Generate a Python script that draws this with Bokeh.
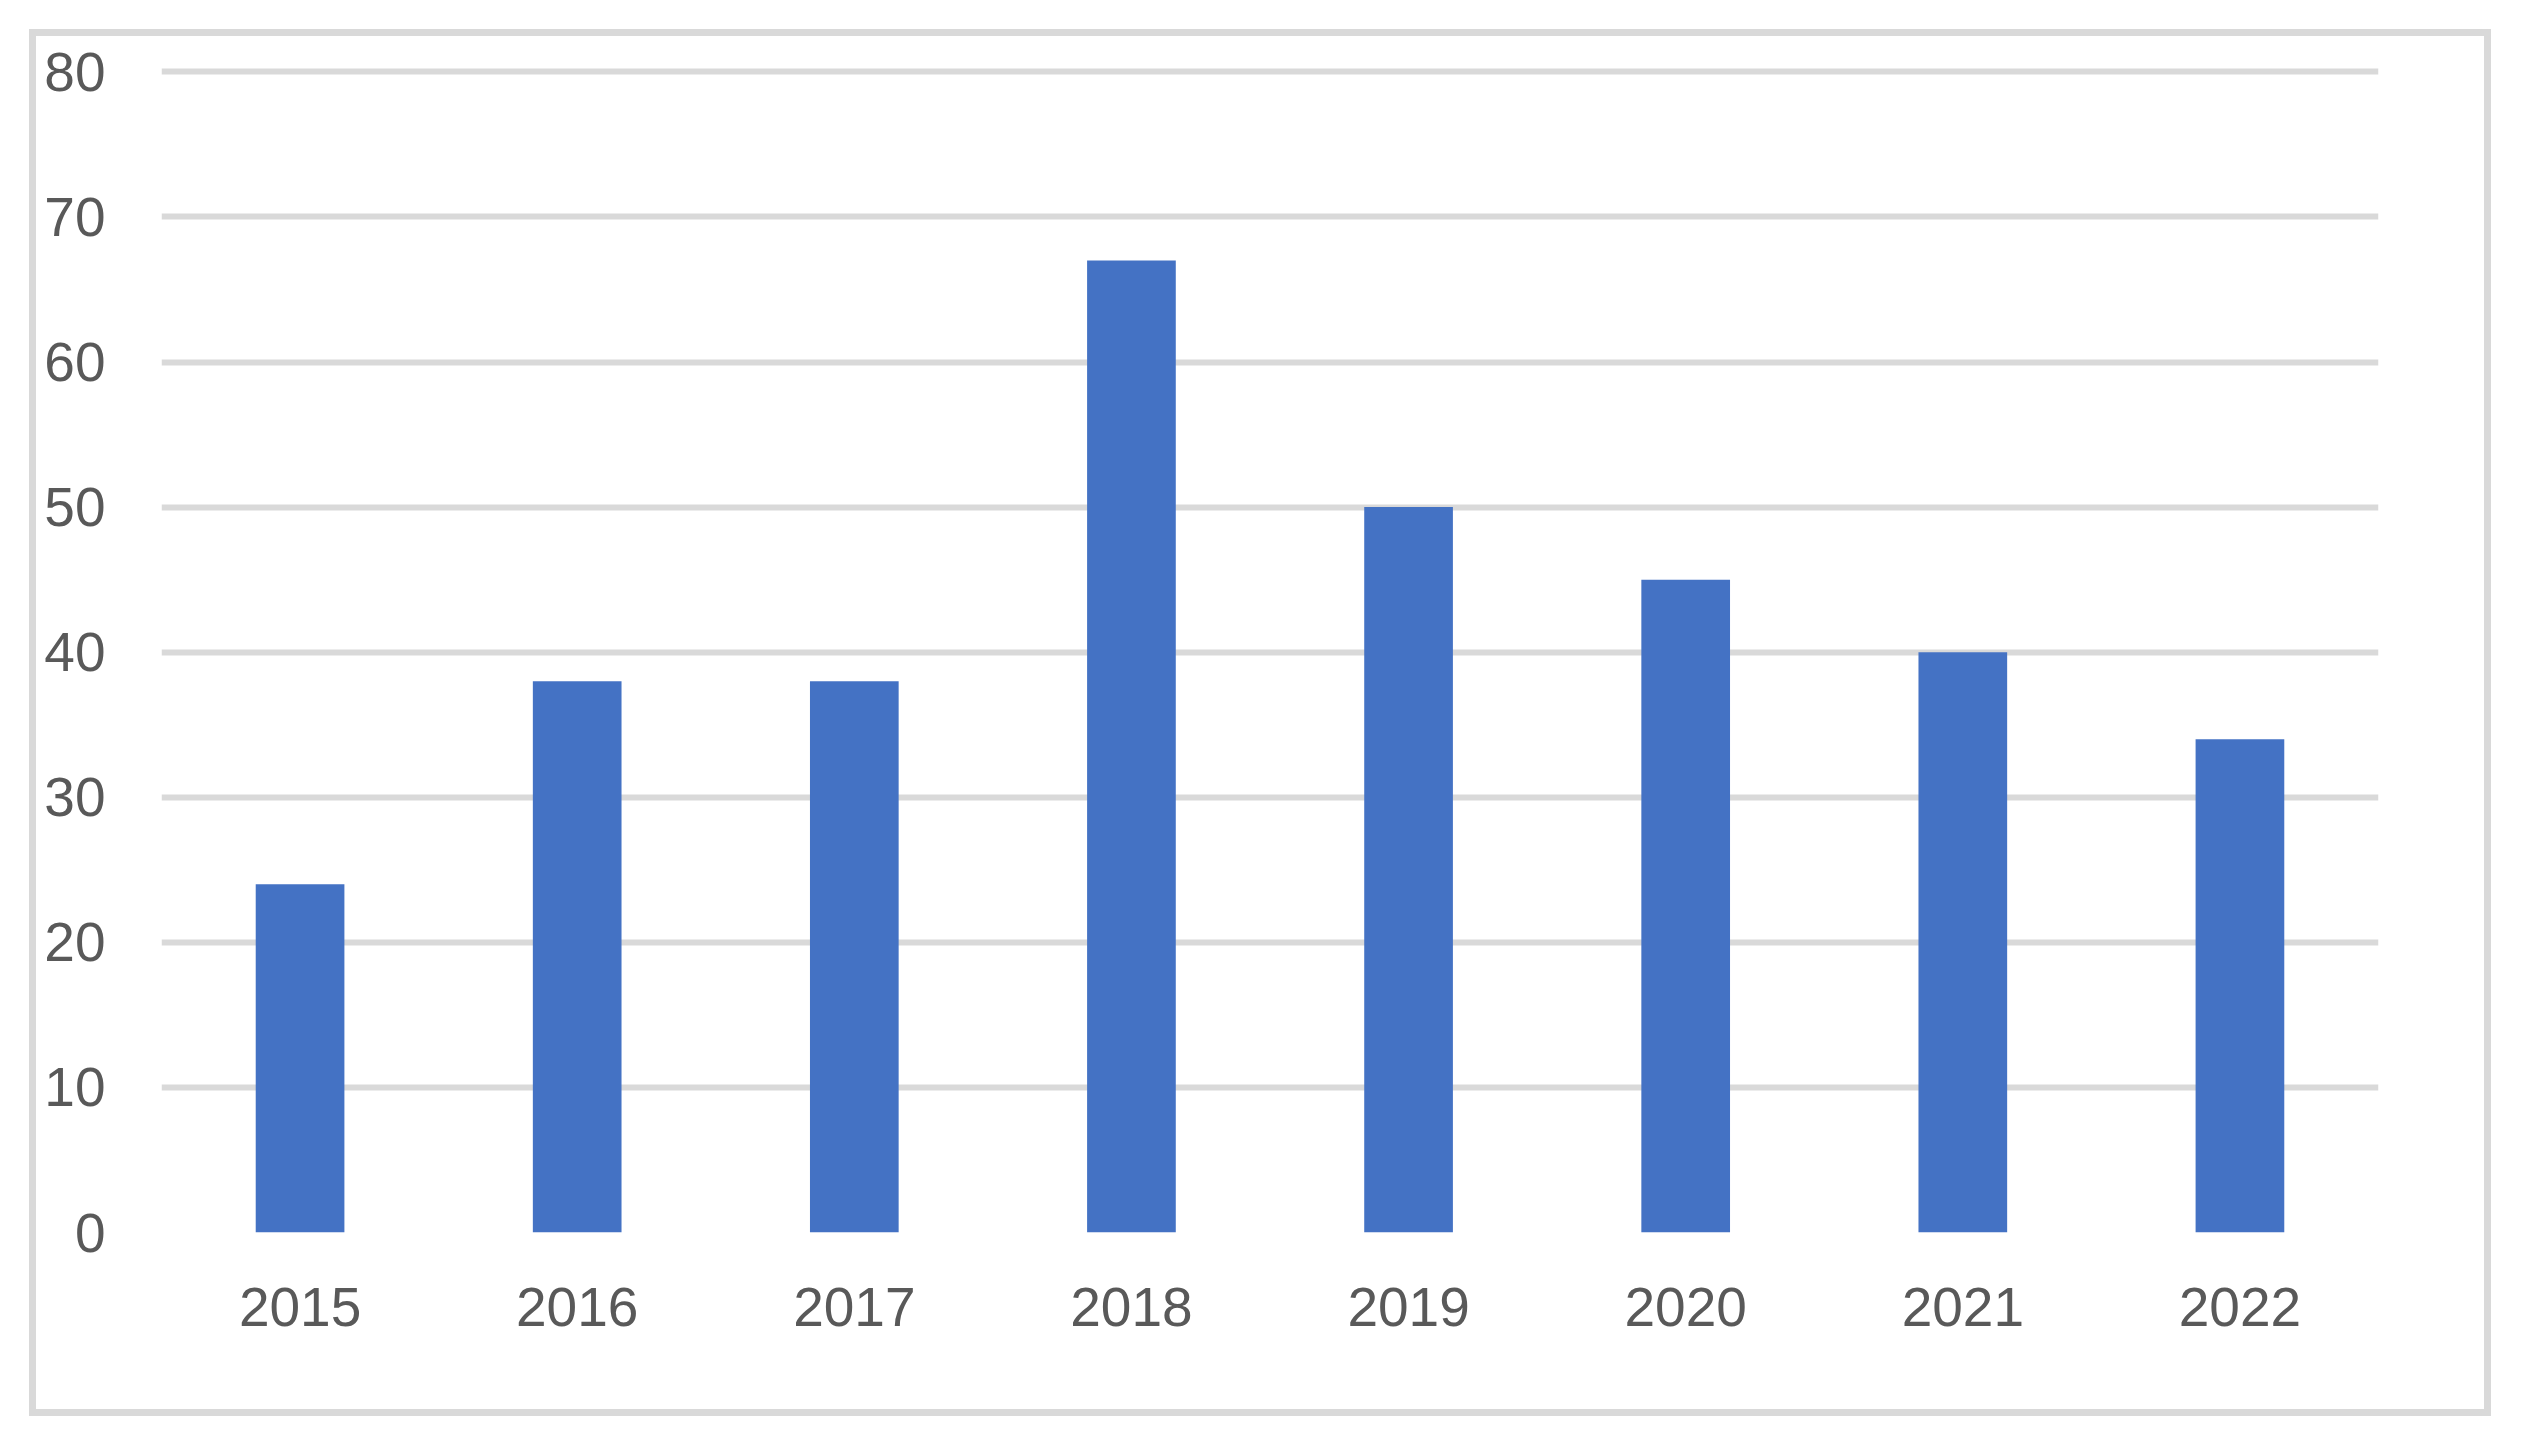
from bokeh.plotting import figure
from bokeh.models import Range1d, FactorRange
from bokeh.embed import file_html
from bokeh.resources import INLINE

years = ["2015", "2016", "2017", "2018", "2019", "2020", "2021", "2022"]
values = [24, 38, 38, 67, 50, 45, 40, 34]
y_ticks = [0, 10, 20, 30, 40, 50, 60, 70, 80]

p = figure(
    x_range=FactorRange(*years, range_padding=0),
    y_range=Range1d(0, 80.3),
    width=2462, height=1387,
    output_backend="svg", toolbar_location=None,
    min_border_left=125, min_border_right=120,
    min_border_top=31, min_border_bottom=191,
)
p.styles = {"border": "7px solid #d9d9d9"}
p.margin = (29, 0, 0, 29)
p.outline_line_color = None
p.background_fill_color = "white"

p.vbar(x=years, top=values, width=0.32, color="#4472c4", line_color=None)

p.yaxis.ticker = y_ticks
p.ygrid.ticker = y_ticks
p.ygrid.grid_line_color = "#d9d9d9"
p.ygrid.grid_line_width = 6
p.xgrid.grid_line_color = None

for ax in (p.xaxis, p.yaxis):
    ax.axis_line_color = None
    ax.major_tick_line_color = None
    ax.minor_tick_line_color = None
    ax.major_tick_out = 0
    ax.major_tick_in = 0
    ax.major_label_text_font = "Liberation Sans"
    ax.major_label_text_font_size = "55px"
    ax.major_label_text_color = "#595959"

p.yaxis.major_label_standoff = 56
p.xaxis.major_label_standoff = 55

open("out.html", "w").write(file_html(p, INLINE))
